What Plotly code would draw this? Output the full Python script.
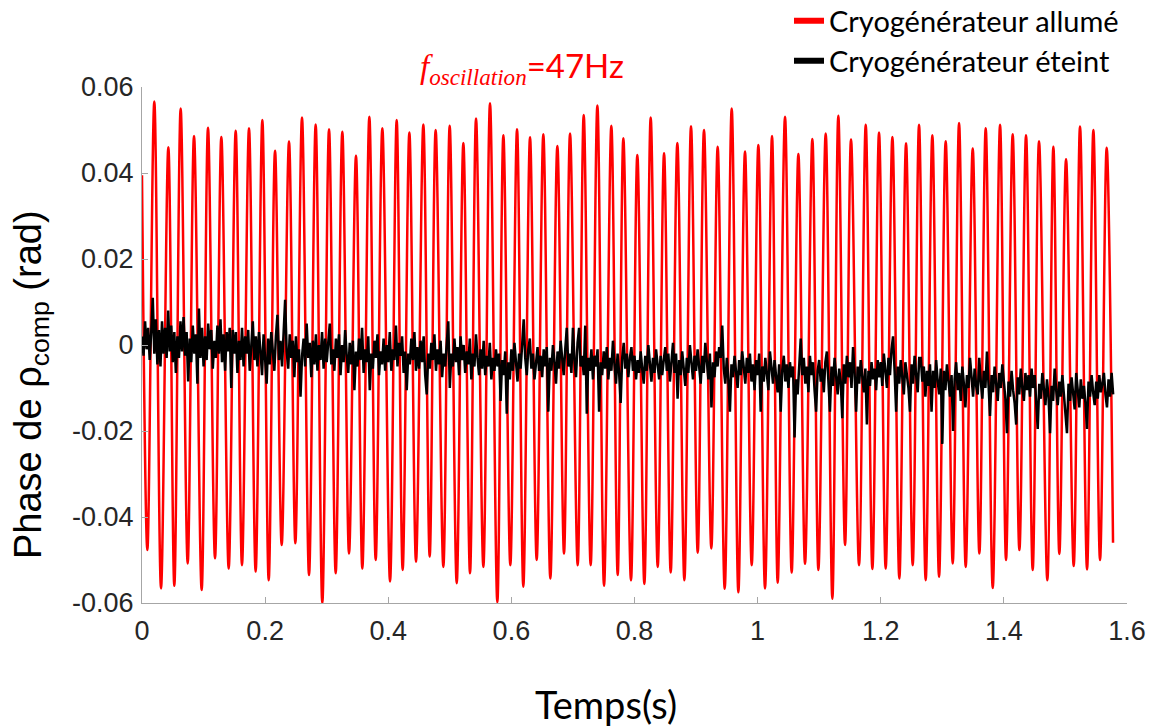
import plotly.graph_objects as go

# ---------------- data ----------------
# Red trace (cryocooler on): times (s) of successive extrema and their values (rad)
red_t = [0.0000,
         0.0087, 0.0200, 0.0309, 0.0428, 0.0525, 0.0628, 0.0742, 0.0845, 0.0969, 0.1072,
         0.1186, 0.1289, 0.1408, 0.1522, 0.1624, 0.1738, 0.1846, 0.1955, 0.2058, 0.2161,
         0.2269, 0.2388, 0.2491, 0.2599, 0.2713, 0.2821, 0.2929, 0.3038, 0.3146, 0.3254,
         0.3363, 0.3476, 0.3579, 0.3693, 0.3796, 0.3904,
         0.4029, 0.4137, 0.4234, 0.4343, 0.4451, 0.4570, 0.4673, 0.4770, 0.4895, 0.4998,
         0.5112, 0.5220, 0.5328, 0.5426, 0.5545, 0.5653, 0.5772, 0.5870, 0.5983, 0.6092,
         0.6194, 0.6303, 0.6411, 0.6519, 0.6633, 0.6747, 0.6855, 0.6953, 0.7077, 0.7175,
         0.7288, 0.7397, 0.7505, 0.7624, 0.7727, 0.7819, 0.7943, 0.8046,
         0.8160, 0.8263, 0.8377, 0.8480, 0.8588, 0.8696, 0.8810, 0.8918, 0.9027, 0.9129,
         0.9248, 0.9351, 0.9465, 0.9579, 0.9687, 0.9795, 0.9904, 1.0012, 1.0120, 1.0234,
         1.0326, 1.0445, 1.0553, 1.0662, 1.0770, 1.0889, 1.0987, 1.1106, 1.1214, 1.1311,
         1.1420, 1.1517, 1.1647, 1.1756, 1.1864, 1.1972, 1.2080, 1.2189,
         1.2302, 1.2411, 1.2519, 1.2622, 1.2730, 1.2838, 1.2947, 1.3055, 1.3169, 1.3272,
         1.3380, 1.3494, 1.3602, 1.3705, 1.3819, 1.3938, 1.4035, 1.4143, 1.4252, 1.4360,
         1.4468, 1.4571, 1.4706, 1.4804, 1.4901, 1.5010, 1.5134, 1.5237, 1.5351, 1.5454,
         1.5562, 1.5670, 1.5773]
red_phase = [0.0395,
             -0.0477, 0.0566, -0.0566, 0.0460, -0.0560, 0.0550, -0.0508, 0.0486, -0.0570, 0.0505,
             -0.0496, 0.0484, -0.0520, 0.0498, -0.0512, 0.0504, -0.0527, 0.0523, -0.0547, 0.0452,
             -0.0465, 0.0473, -0.0461, 0.0529, -0.0535, 0.0513, -0.0600, 0.0502, -0.0531, 0.0496,
             -0.0485, 0.0440, -0.0520, 0.0531, -0.0500, 0.0504,
             -0.0550, 0.0523, -0.0523, 0.0494, -0.0504, 0.0513, -0.0492, 0.0500, -0.0516, 0.0510,
             -0.0554, 0.0470, -0.0531, 0.0527, -0.0516, 0.0562, -0.0598, 0.0488, -0.0512, 0.0502,
             -0.0562, 0.0483, -0.0500, 0.0490, -0.0543, 0.0463, -0.0485, 0.0492, -0.0512, 0.0535,
             -0.0512, 0.0557, -0.0560, 0.0510, -0.0535, 0.0481, -0.0547, 0.0442,
             -0.0556, 0.0529, -0.0516, 0.0446, -0.0529, 0.0470, -0.0547, 0.0509, -0.0483, 0.0500,
             -0.0473, 0.0461, -0.0567, 0.0550, -0.0575, 0.0450, -0.0512, 0.0465, -0.0566, 0.0486,
             -0.0553, 0.0531, -0.0529, 0.0444, -0.0509, 0.0479, -0.0523, 0.0492, -0.0590, 0.0533,
             -0.0465, 0.0478, -0.0512, 0.0512, -0.0521, 0.0494, -0.0520, 0.0484,
             -0.0543, 0.0469, -0.0512, 0.0512, -0.0547, 0.0488, -0.0539, 0.0474, -0.0508, 0.0516,
             -0.0516, 0.0457, -0.0485, 0.0504, -0.0565, 0.0512, -0.0500, 0.0490, -0.0477, 0.0488,
             -0.0523, 0.0474, -0.0547, 0.0461, -0.0486, 0.0432, -0.0514, 0.0508, -0.0522, 0.0500,
             -0.0500, 0.0459, -0.0460]

# Black trace (cryocooler off): sampled every BLACK_DT seconds, values in mrad
BLACK_DT = 0.0025
black_phase_mrad = [
    2.0, -2.5, 5.5, -1.0, 4.0, -3.5, 3.0, 11.0, -2.0, 6.0,
    -4.5, 3.5, -5.0, 5.5, -2.0, 4.0, -3.0, 8.0, -1.5, 4.5,
    -4.0, 3.0, -6.5, 2.0, -3.0, 5.5, -1.5, 6.5, -2.5, 3.0,
    -8.5, 1.5, -4.0, 4.5, -2.0, 2.5, -9.0, 8.5, -3.0, 4.0,
    -5.0, 2.0, -3.5, 5.0, -1.0, 3.5, -5.5, 1.0, -3.0, 4.5,
    -2.0, 6.0, -4.0, 2.5, -6.0, 3.0, -1.5, 4.0, -10.0, 3.5,
    -2.0, 3.0, -6.5, 1.0, -3.5, 4.0, -5.0, 2.0, -2.0, 3.5,
    -6.0, 1.5, 5.5, -3.5, 2.0, -5.0, 3.0, -1.5, -7.0, 2.5,
    -3.0, -9.0, 1.5, -4.5, 3.0, -2.0, -6.0, 2.0, 7.0, -3.5,
    1.0, -5.0, 4.0, 10.5, -1.5, -5.5, 2.5, -3.0, 1.0, -7.5,
    2.0, -4.0, -1.0, -12.0, -2.5, 1.5, -5.0, 5.0, -3.0, 0.5,
    -7.5, 1.0, -4.5, 2.5, -6.0, 0.0, -3.5, 3.0, -5.5, 1.5,
    -4.0, 0.5, 5.0, -4.5, -1.0, -6.0, 1.5, -3.0, 2.5, -7.0,
    0.0, -4.0, 3.5, -2.5, -6.5, 0.5, -4.5, 1.0, -10.5, -1.5,
    -5.0, 1.5, -3.5, 4.0, -6.5, -1.0, -4.0, 2.0, -10.5, -2.0,
    -5.5, 1.0, -3.0, 2.5, -7.0, -1.5, -4.5, 1.5, -6.0, 0.0,
    -4.0, 3.0, -6.0, -1.0, -3.5, 4.5, -5.0, 0.5, -2.5, 2.0,
    -6.5, -1.5, -10.5, -2.0, -4.5, 1.5, -3.5, 3.0, -6.0, -0.5,
    -5.5, 1.0, -4.0, 2.0, -7.0, -11.5, -2.0, -5.5, 0.5, -3.5,
    2.5, -6.0, -1.0, -4.5, 1.0, -7.5, -2.0, -5.0, 0.0, 5.5,
    -10.0, -2.0, -5.0, 1.5, -4.0, -0.5, -7.0, 2.0, -3.5, 0.0,
    -6.5, -1.5, -4.5, 1.5, -8.0, -2.0, -5.0, 2.5, -3.0, -7.0,
    -1.0, -5.5, 1.0, -7.0, -2.5, -5.0, 0.5, -8.0, -3.0, -6.0,
    -1.0, -5.0, -2.0, -13.0, -3.5, -7.0, -1.5, -16.0, -4.0, -8.0,
    -1.0, -6.0, 0.5, -4.5, -8.5, -2.0, -5.5, 0.0, 6.0, -3.0,
    -7.0, -1.0, 1.5, -5.5, -2.0, -8.0, -3.5, -0.5, -6.0, -2.5,
    -7.5, -1.0, -5.0, -0.5, -15.5, -3.0, -6.0, 0.0, -4.0, -9.0,
    -1.5, -5.5, 1.0, -3.5, -7.0, -1.0, 4.0, -5.0, -2.0, -6.5,
    4.0, -3.5, -7.5, 0.5, 4.0, -5.0, -2.5, -7.0, 4.5, -16.0,
    -3.0, -6.0, -1.0, -8.0, -2.5, -5.0, -1.0, -15.5, -4.0, -7.0,
    -1.5, -5.5, -0.5, -8.0, -3.0, -6.0, 1.0, -4.5, -9.0, -2.0,
    -6.5, -13.5, -3.0, 0.5, -5.5, -2.0, -7.5, -3.0, -0.5, -6.0,
    -2.5, -8.0, -3.5, -6.5, -1.5, -5.5, -9.0, -2.5, -6.0, 0.0,
    -4.5, -8.5, -3.0, -6.5, -1.0, -5.0, -8.0, -2.5, -7.0, -3.5,
    -0.5, -6.0, -2.0, -8.5, -4.0, 0.5, -6.5, -2.0, -12.5, -3.5,
    -7.0, -1.5, -5.5, -9.5, -3.0, -6.5, 0.0, -4.5, -8.0, -2.5,
    -6.0, -1.0, -5.0, -9.0, -2.5, -6.5, 0.5, -4.0, -8.0, -2.0,
    -14.5, -4.0, -7.5, -1.5, -5.0, -0.5, -3.0, 4.5, -5.5, -9.0,
    -3.0, -8.0, -15.5, -4.5, -7.5, -2.5, -6.0, -10.0, -3.5, -7.0,
    -1.5, -5.5, -9.0, -3.0, -6.5, -2.0, -8.5, -4.5, -10.5, -3.5,
    -7.0, -2.0, -15.5, -5.0, -8.5, -3.0, -6.5, -10.5, -1.5, -6.0,
    -9.0, -3.5, -7.5, -11.0, -4.5, -15.5, -6.0, -2.5, -8.5, -4.5,
    -10.0, -4.0, -7.5, -5.0, -21.5, -8.0, -11.5, -5.5, 1.5, -7.0,
    -3.0, -9.0, -5.0, -11.0, -2.5, -7.0, -4.0, -10.5, -15.5, -6.0,
    -3.5, -8.5, -5.5, -11.0, -4.0, -1.5, -8.0, -15.5, -5.0, -9.5,
    -3.0, -7.0, -11.5, -5.5, -8.5, -17.0, -4.5, -9.0, -2.5, -7.5,
    -4.0, -10.0, -0.5, -6.5, -15.5, -5.0, -9.0, -3.5, -7.0, -11.0,
    -5.5, -18.5, -6.0, -9.5, -4.0, -8.0, -5.5, -10.5, -3.5, -7.5,
    -4.0, -9.5, -2.0, -6.5, -10.0, -3.0, -7.0, -1.0, 2.0, -6.0,
    -15.5, -5.0, -9.0, -3.5, -8.0, -11.5, -4.0, -7.5, -10.0, -15.5,
    -4.5, -9.0, -2.5, -7.0, -11.0, -3.0, -3.0, -8.5, -5.0, -12.0,
    -6.0, -9.5, -4.5, -15.5, -6.0, -10.0, -3.5, -8.5, -11.5, -5.5,
    -23.0, -6.0, -10.5, -4.5, -8.5, -12.0, -7.0, -20.0, -8.0, -4.0,
    -10.5, -6.5, -13.0, -5.0, -9.0, -14.5, -7.0, -10.0, -3.0, -8.5,
    -12.0, -5.5, -9.5, -11.5, -3.0, -8.5, -12.5, -6.0, -10.0, -1.5,
    -9.0, -16.5, -7.0, -11.0, -5.0, -9.5, -13.0, -6.5, -10.0, -4.5,
    -8.0, -12.5, -20.5, -8.5, -12.0, -6.0, -10.5, -13.5, -18.5, -7.5,
    -11.5, -5.5, -10.0, -13.0, -6.5, -10.5, -7.0, -12.0, -5.5, -10.0,
    -7.0, -13.0, -19.5, -9.0, -12.5, -6.5, -11.0, -14.0, -8.0, -12.0,
    -20.5, -9.5, -13.0, -5.5, -10.5, -14.0, -8.5, -12.0, -7.0, -11.5,
    -14.5, -20.5, -9.0, -13.0, -7.5, -12.0, -15.0, -6.5, -11.5, -14.5,
    -8.0, -12.5, -9.5, -13.5, -19.5, -8.5, -12.0, -7.0, -11.0, -14.0,
    -8.5, -12.5, -7.0, -11.0, -9.0, -6.5, -11.5, -14.5, -8.0, -12.0,
    -6.5, -11.5]

x_tick_vals = [0, 0.2, 0.4, 0.6, 0.8, 1.0, 1.2, 1.4, 1.6]
x_tick_text = ["0", "0.2", "0.4", "0.6", "0.8", "1", "1.2", "1.4", "1.6"]
y_tick_vals = [-0.06, -0.04, -0.02, 0, 0.02, 0.04, 0.06]
y_tick_text = ["-0.06", "-0.04", "-0.02", "0", "0.02", "0.04", "0.06"]

legend_names = ["Cryogénérateur allumé", "Cryogénérateur éteint"]

# ---------------- figure ----------------
black_t = [i * BLACK_DT for i in range(len(black_phase_mrad))]
black_phase = [v / 1000.0 for v in black_phase_mrad]

fig = go.Figure()
fig.add_trace(go.Scatter(x=red_t, y=red_phase, mode="lines",
                         line=dict(color="#ff0000", width=2.5, shape="spline", smoothing=1.0),
                         showlegend=False, hoverinfo="skip"))
fig.add_trace(go.Scatter(x=black_t, y=black_phase, mode="lines",
                         line=dict(color="#000000", width=2.5),
                         showlegend=False, hoverinfo="skip"))
# legend entries (thick swatches as in the reference)
fig.add_trace(go.Scatter(x=[None], y=[None], mode="lines", name=legend_names[0],
                         line=dict(color="#ff0000", width=6), legend="legend"))
fig.add_trace(go.Scatter(x=[None], y=[None], mode="lines", name=legend_names[1],
                         line=dict(color="#000000", width=6), legend="legend2"))

# the page has an 8px body margin; figure is sized so the plot lands where the reference has it
PAGE_OFF = 8
PLOT_L, PLOT_R, PLOT_T, PLOT_B = 142, 1127, 87, 603      # plot area in page pixels
W, H = 1156 - PAGE_OFF, 726 - PAGE_OFF
L = PLOT_L - PAGE_OFF
T = PLOT_T - PAGE_OFF
PW, PH = PLOT_R - PLOT_L, PLOT_B - PLOT_T
R = W - L - PW
B = H - T - PH


def px_x(px):
    return (px - PLOT_L) / PW


def px_y(py):
    return (PLOT_B - py) / PH


tick_font = dict(family="Liberation Sans, Arial", size=27, color="#262626")
axis_common = dict(showline=True, linecolor="#a6a6a6", linewidth=1, ticks="inside",
                   ticklen=6, tickcolor="#a6a6a6", showgrid=False, zeroline=False,
                   tickfont=tick_font, mirror=False)

fig.update_layout(
    width=W, height=H,
    margin=dict(l=L, r=R, t=T, b=B, autoexpand=False),
    paper_bgcolor="white", plot_bgcolor="white",
    xaxis=dict(range=[0, 1.6], tickvals=x_tick_vals, ticktext=x_tick_text,
               ticklabelstandoff=4, **axis_common),
    yaxis=dict(range=[-0.06, 0.06], tickvals=y_tick_vals, ticktext=y_tick_text,
               ticklabelstandoff=2, **axis_common),
    legend=dict(x=px_x(789), y=px_y(21), xanchor="left", yanchor="middle",
                bgcolor="rgba(0,0,0,0)", font=dict(family="Lato", size=29, color="#000000"),
                itemwidth=30),
    legend2=dict(x=px_x(789), y=px_y(61), xanchor="left", yanchor="middle",
                 bgcolor="rgba(0,0,0,0)", font=dict(family="Lato", size=29, color="#000000"),
                 itemwidth=30),
    annotations=[
        dict(text="Phase de ρ<sub>comp</sub> (rad)", textangle=-90,
             xref="paper", yref="paper", x=px_x(31), y=px_y(385),
             xanchor="center", yanchor="middle", showarrow=False,
             font=dict(family="Liberation Sans, Arial", size=38, color="#000000")),
        dict(text="Temps(s)", xref="paper", yref="paper", x=px_x(606), y=px_y(704),
             xanchor="center", yanchor="middle", showarrow=False,
             font=dict(family="Lato", size=38, color="#000000")),
        dict(text='<span style="font-family:Liberation Serif"><i>f</i><sub><i>oscillation</i></sub></span>=47Hz',
             xref="paper", yref="paper", x=px_x(522), y=px_y(68),
             xanchor="center", yanchor="middle", showarrow=False,
             font=dict(family="Lato", size=33, color="#ff0000")),
    ],
)

fig.write_html("out.html")
